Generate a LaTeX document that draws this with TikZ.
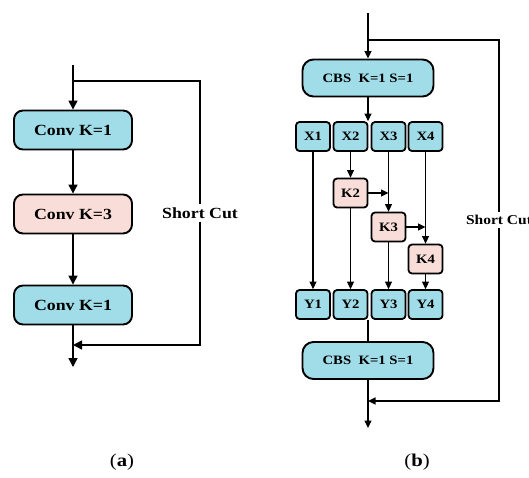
\documentclass[tikz,border=0pt]{standalone}
\usepackage{fontspec}
\setmainfont[FakeStretch=1.15]{Liberation Serif}
\usepackage{tikz}
\usetikzlibrary{arrows.meta,positioning}
\definecolor{boxcyan}{RGB}{160,221,232}
\definecolor{boxpink}{RGB}{249,221,216}

\begin{document}
\begin{tikzpicture}[x=1pt,y=-1pt,
    bigbox/.style={draw,line width=1.9pt,rounded corners=9pt,inner sep=0pt,
      minimum width=118pt,minimum height=39pt,font=\fontsize{15.5}{18}\selectfont\bfseries},
    cbsbox/.style={bigbox,fill=boxcyan,minimum width=131pt,minimum height=37pt,
      rounded corners=11pt,font=\fontsize{12.8}{15}\selectfont\bfseries},
    smallbox/.style={draw,line width=1.8pt,rounded corners=3.5pt,inner sep=0pt,
      minimum width=34pt,minimum height=29pt,font=\fontsize{12.8}{15}\selectfont\bfseries},
    cutlabel/.style={inner sep=3pt,font=\fontsize{15.5}{18}\selectfont\bfseries},
    bigarr/.style={line width=1.4pt,-{Triangle[length=9pt,width=9pt]}},
    arr/.style={line width=1.2pt,-{Triangle[length=7.5pt,width=7pt]}},
    line/.style={line width=1.3pt}]
  \useasboundingbox (0,0) rectangle (529,477);

  % (a) bottleneck block
  \node[bigbox,fill=boxcyan] (conva) at (73,130) {Conv K=1};
  \node[bigbox,fill=boxpink] (convb) at (73,214) {Conv K=3};
  \node[bigbox,fill=boxcyan] (convc) at (73,305) {Conv K=1};
  \coordinate (ina) at (73,65);
  \coordinate (splita) at (73,81);
  \coordinate (joina) at (73,345);
  \coordinate (outa) at (73,367);
  \node[cutlabel] (cuta) at (200,213) {Short Cut};

  \draw[bigarr] (ina) -- (conva);
  \draw[bigarr] (conva) -- (convb);
  \draw[bigarr] (convb) -- (convc);
  \draw[bigarr] (convc) -- (outa);
  \draw[line] (splita) -| (cuta.north);
  \draw[bigarr] (cuta.south) |- (joina);

  % (b) split block with K branches
  \node[cbsbox] (cbsa) at (368,78) {CBS\ \ K=1 S=1};
  \node[smallbox,fill=boxcyan] (x1) at (313,136.5) {X1};
  \node[smallbox,fill=boxcyan] (x2) at (350.5,136.5) {X2};
  \node[smallbox,fill=boxcyan] (x3) at (388.5,136.5) {X3};
  \node[smallbox,fill=boxcyan] (x4) at (425.5,136.5) {X4};
  \node[smallbox,fill=boxpink] (k2) at (350.5,193) {K2};
  \node[smallbox,fill=boxpink] (k3) at (388.5,227) {K3};
  \node[smallbox,fill=boxpink] (k4) at (425.5,259) {K4};
  \node[smallbox,fill=boxcyan] (y1) at (313,304.5) {Y1};
  \node[smallbox,fill=boxcyan] (y2) at (350.5,304.5) {Y2};
  \node[smallbox,fill=boxcyan] (y3) at (388.5,304.5) {Y3};
  \node[smallbox,fill=boxcyan] (y4) at (425.5,304.5) {Y4};
  \node[cbsbox] (cbsb) at (368,360.5) {CBS\ \ K=1 S=1};
  \coordinate (inb) at (368,13);
  \coordinate (splitb) at (368,40);
  \coordinate (joinb) at (368,401);
  \coordinate (outb) at (368,428);
  \node[cutlabel,font=\fontsize{13.5}{16}\selectfont\bfseries] (cutb) at (499,220) {Short Cut};

  \draw[arr] (inb) -- (cbsa);
  \draw[arr] (cbsa) -- (cbsa |- x2.north);
  \draw[arr] (x1) -- (y1);
  \draw[arr] (x2) -- (k2);
  \draw[arr] (k2) -- (y2);
  \draw[arr] (x3) -- (k3);
  \draw[arr] (k2) -- (k2 -| x3);
  \draw[arr] (k3) -- (y3);
  \draw[arr] (k3) -- (k3 -| x4);
  \draw[arr] (x4) -- (k4);
  \draw[arr] (k4) -- (y4);
  \draw[line] (cbsb |- y2.south) -- (cbsb);
  \draw[arr] (cbsb) -- (outb);
  \draw[line] (splitb) -| (cutb.north);
  \draw[arr] (cutb.south) |- (joinb);

  % panel captions
  \node[font=\fontsize{18}{21}\selectfont] (capa) at (122,462) {(\textbf{a})};
  \node[font=\fontsize{18}{21}\selectfont] (capb) at (417,462) {(\textbf{b})};
\end{tikzpicture}
\end{document}
